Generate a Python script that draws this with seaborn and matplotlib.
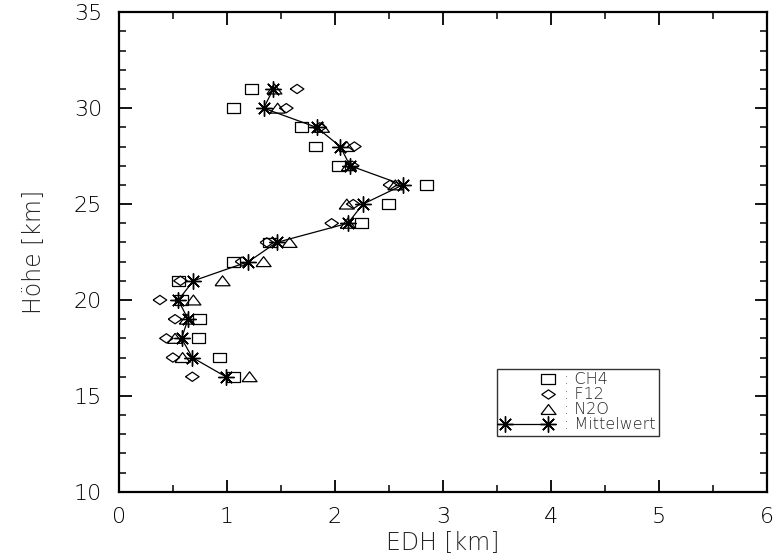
import numpy as np
import pandas as pd
import matplotlib
matplotlib.use("Agg")
import matplotlib.pyplot as plt
from matplotlib.ticker import MultipleLocator
from matplotlib.lines import Line2D
from matplotlib.legend_handler import HandlerLine2D
import seaborn as sns

# Altitude levels [km]
hoehe = [31, 30, 29, 28, 27, 26, 25, 24, 23, 22, 21, 20, 19, 18, 17, 16]

# Equivalent displacement height per tracer [km]
edh_ch4 = [1.23, 1.06, 1.69, 1.82, 2.03, 2.85, 2.50, 2.25, 1.40, 1.06, 0.55, 0.58, 0.75, 0.74, 0.93, 1.06]
edh_f12 = [1.65, 1.55, 1.86, 2.18, 2.16, 2.51, 2.17, 1.97, 1.37, 1.14, 0.57, 0.38, 0.52, 0.44, 0.50, 0.68]
edh_n2o = [1.44, 1.47, 1.88, 2.11, 2.13, 2.56, 2.11, 2.12, 1.58, 1.34, 0.96, 0.69, 0.63, 0.52, 0.59, 1.21]
edh_mittel = [1.43, 1.34, 1.83, 2.05, 2.14, 2.63, 2.26, 2.12, 1.46, 1.20, 0.69, 0.55, 0.64, 0.58, 0.68, 0.99]

series_labels = [": CH4", ": F12", ": N2O", ": Mittelwert"]

sns.set_style("ticks")
plt.rcParams["font.family"] = ["DejaVu Sans"]
TXT_W = "light"

# flattened open symbols (wider than tall)
m_box = [(-1, -0.75), (1, -0.75), (1, 0.75), (-1, 0.75), (-1, -0.75)]
m_dia = [(-1, 0), (0, 0.68), (1, 0), (0, -0.68), (-1, 0)]
m_tri = [(-1, -0.66), (1, -0.66), (0, 0.66), (-1, -0.66)]
m_star = (8, 2, 0)

df = pd.DataFrame({
    "hoehe": hoehe * 3,
    "edh": edh_ch4 + edh_f12 + edh_n2o,
    "tracer": ["CH4"] * len(hoehe) + ["F12"] * len(hoehe) + ["N2O"] * len(hoehe),
})
df_mean = pd.DataFrame({"hoehe": hoehe, "edh": edh_mittel})

fig = plt.figure(figsize=(7.77, 5.57), dpi=100)
ax = fig.add_axes([0.153, 0.117, 0.834, 0.861])

sizes = {"CH4": 9.5, "F12": 9.8, "N2O": 10.8}
markers = {"CH4": m_box, "F12": m_dia, "N2O": m_tri}
for tracer, sub in df.groupby("tracer"):
    sns.scatterplot(data=sub, x="edh", y="hoehe", marker=markers[tracer],
                    s=sizes[tracer] ** 2, facecolor="none", edgecolor="black",
                    linewidth=0.9, ax=ax, legend=False)

sns.lineplot(data=df_mean, x="edh", y="hoehe", sort=False, color="black",
             linewidth=0.9, marker=m_star, markersize=11.5, markeredgewidth=1.0,
             markeredgecolor="black", ax=ax, estimator=None)

ax.set_xlim(0, 6)
ax.set_ylim(10, 35)
ax.xaxis.set_major_locator(MultipleLocator(1))
ax.xaxis.set_minor_locator(MultipleLocator(0.5))
ax.yaxis.set_major_locator(MultipleLocator(5))
ax.yaxis.set_minor_locator(MultipleLocator(1))
ax.tick_params(which="both", direction="in", top=True, right=True,
               colors="black", labelsize=16)
ax.tick_params(axis="x", pad=11)
ax.tick_params(axis="y", pad=12)
ax.tick_params(which="major", length=9, width=1.3)
ax.tick_params(which="minor", length=5, width=1.1)
for lab in ax.get_xticklabels() + ax.get_yticklabels():
    lab.set_fontweight(TXT_W)
for sp in ax.spines.values():
    sp.set_linewidth(1.6)
    sp.set_color("black")

ax.set_xlabel("EDH [km]", fontsize=17, fontweight=TXT_W, labelpad=3)
ax.set_ylabel("Höhe [km]", fontsize=17, fontweight=TXT_W, labelpad=20)


class RightMarkerHandler(HandlerLine2D):
    """Legend key with a lone symbol at the right end of the key."""

    def create_artists(self, legend, orig_handle, xdescent, ydescent,
                       width, height, fontsize, trans):
        xdata, _ = self.get_xdata(legend, xdescent, ydescent, width, height, fontsize)
        xdata = np.asarray(xdata, dtype=float)
        ydata = np.full_like(xdata, (height - ydescent) / 2)
        key = Line2D(xdata, ydata)
        self.update_prop(key, orig_handle, legend)
        key.set_markevery([len(xdata) - 1])
        key.set_transform(trans)
        return [key]


handles = [
    Line2D([], [], linestyle="none", marker=m_box, markersize=9.5, markerfacecolor="none",
           markeredgecolor="black", markeredgewidth=0.9),
    Line2D([], [], linestyle="none", marker=m_dia, markersize=9.8, markerfacecolor="none",
           markeredgecolor="black", markeredgewidth=0.9),
    Line2D([], [], linestyle="none", marker=m_tri, markersize=10.8, markerfacecolor="none",
           markeredgecolor="black", markeredgewidth=0.9),
    Line2D([], [], color="black", linewidth=0.9, marker=m_star, markersize=11.5,
           markeredgewidth=1.0),
]
hmap = {h: RightMarkerHandler(numpoints=2) for h in handles[:3]}
hmap[handles[3]] = HandlerLine2D(numpoints=2)
leg = ax.legend(handles, series_labels, loc="lower left", handler_map=hmap,
                bbox_to_anchor=(0.583, 0.117), frameon=True, fancybox=False,
                prop={"size": 11.5, "weight": TXT_W}, handlelength=3.3,
                handletextpad=0.7, borderpad=0.22, labelspacing=0.0,
                borderaxespad=0, handleheight=0.6)
leg.get_frame().set_edgecolor("black")
leg.get_frame().set_linewidth(1.0)

fig.savefig("out.png", dpi=100)
